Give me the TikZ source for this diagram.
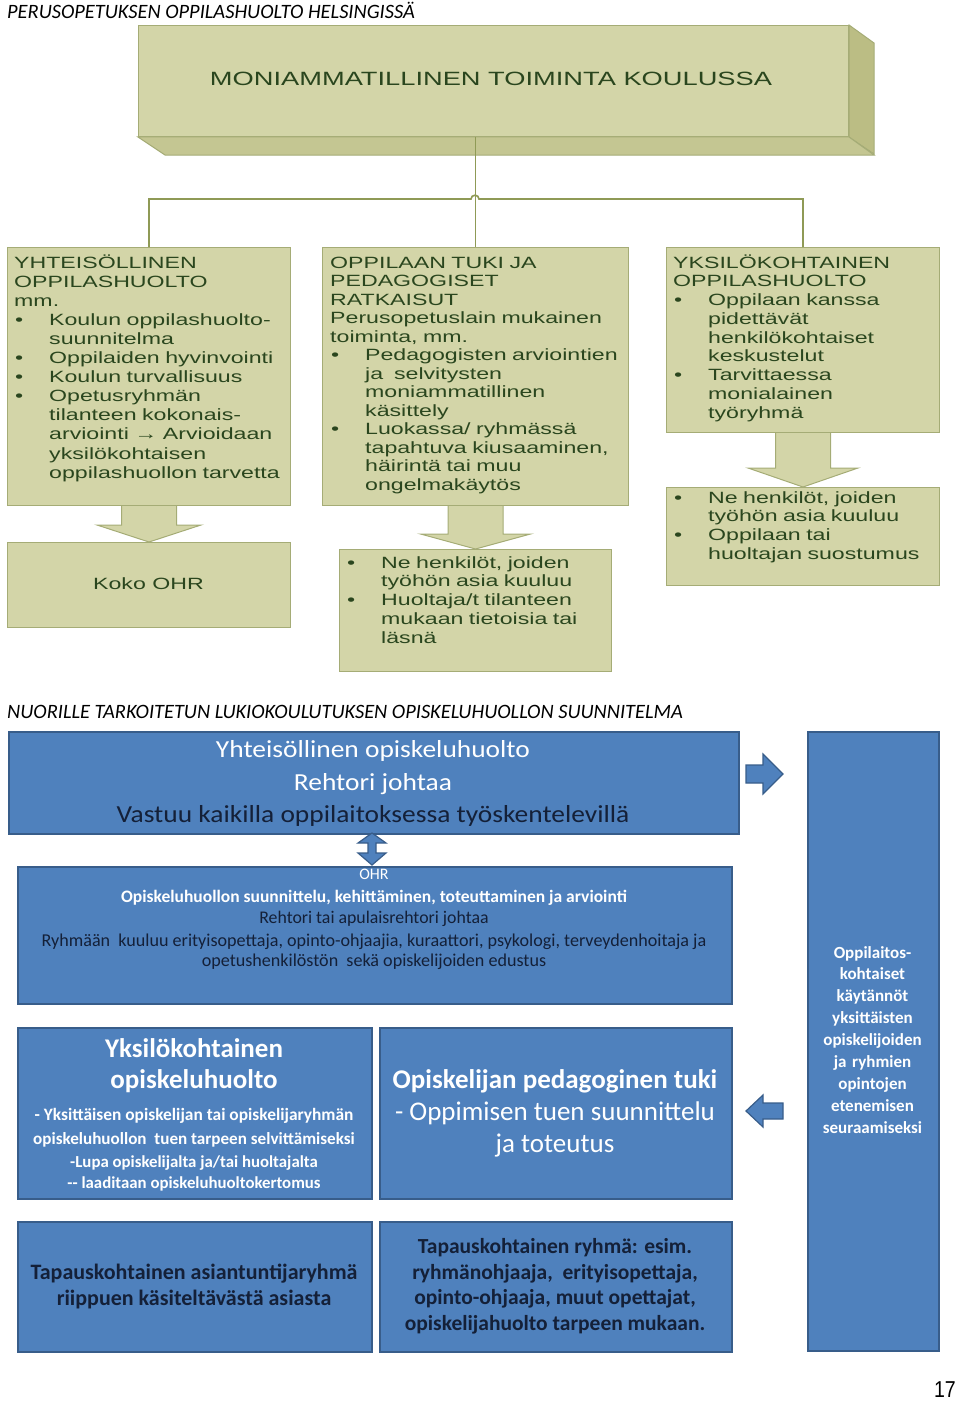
\documentclass[tikz,border=0pt]{standalone}
\usepackage{fontspec}
\setmainfont{Carlito}
\newfontfamily\gfont[FakeStretch=1.42]{Liberation Sans}
\newfontfamily\calf{Carlito}
\newfontfamily\calw[FakeStretch=1.12]{Carlito}
\newfontfamily\arn[FakeStretch=0.85]{Liberation Sans}
\usetikzlibrary{calc}
\definecolor{gfill}{RGB}{211,213,168}
\definecolor{gline}{RGB}{165,172,118}
\definecolor{gside}{RGB}{187,189,132}
\definecolor{gbot}{RGB}{196,198,146}
\definecolor{gtext}{RGB}{42,70,30}
\definecolor{conn}{RGB}{143,154,86}
\definecolor{bfill}{RGB}{79,129,189}
\definecolor{bline}{RGB}{56,93,138}
\definecolor{dtext}{RGB}{20,32,56}
\newcommand{\bl}{\makebox[35pt][l]{\hspace{1pt}•}}
\newcommand{\ind}{\hspace*{35pt}}
\newcommand{\garrow}[5]{%
  \draw[garr] let \p1=(#1), \p2=(#2) in
    (\x1-#3pt,\y1) -- (\x1-#3pt,\y2+#5pt) -- (\x1-#4pt,\y2+#5pt) -- (\x2,\y2)
    -- (\x1+#4pt,\y2+#5pt) -- (\x1+#3pt,\y2+#5pt) -- (\x1+#3pt,\y1);}
\begin{document}
\begin{tikzpicture}[x=1pt,y=-1pt,
  gbox/.style={draw=gline, line width=1pt, fill=gfill, inner sep=0pt, anchor=north west},
  garr/.style={draw=gline, line width=1pt, fill=gfill},
  conline/.style={draw=conn, line width=1.6pt},
  gtxt/.style={text=gtext, align=left, text width=400pt, inner sep=0pt, anchor=base west},
  bbox/.style={draw=bline, line width=1.5pt, fill=bfill, inner sep=0pt, anchor=north west},
  barr/.style={draw=bline, line width=1.2pt, fill=bfill},
  wt/.style={text=white, inner sep=0pt, anchor=base},
  dt/.style={text=dtext, inner sep=0pt, anchor=base},
  hdr/.style={inner sep=0pt, anchor=base west, font={\calf\itshape\fontsize{20.4}{24}\selectfont}}
]
\useasboundingbox (0,0) rectangle (960,1402);

% ---------- headers ----------
\node[hdr] (h1) at (7,19) {PERUSOPETUKSEN OPPILASHUOLTO HELSINGISSÄ};
\node[hdr] (h2) at (7,718) {NUORILLE TARKOITETUN LUKIOKOULUTUKSEN OPISKELUHUOLLON SUUNNITELMA};

% ---------- top 3D box ----------
\node[gbox, minimum width=710, minimum height=111] (top) at (138,25) {};
\draw[draw=gline, line width=1pt, fill=gside] (top.north east) -- ++(25,18) -- ++(0,111) -- (top.south east) -- cycle;
\draw[draw=gline, line width=1pt, fill=gbot] (top.south west) -- (top.south east) -- ++(25,18) -- ($(top.south west)+(27,18)$) -- cycle;
\node[text=gtext, inner sep=0pt, anchor=base, font={\gfont\fontsize{19.2}{22}\selectfont}] (tt) at (491,86) {MONIAMMATILLINEN TOIMINTA KOULUSSA};

% ---------- green boxes ----------
\node[gbox, minimum width=283, minimum height=258] (b1) at (7,247) {};
\node[gbox, minimum width=306, minimum height=258] (b2) at (322,247) {};
\node[gbox, minimum width=273, minimum height=185] (b3) at (666,247) {};
\node[gbox, minimum width=283, minimum height=85] (k1) at (7,542) {};
\node[gbox, minimum width=272, minimum height=122] (k2) at (339,549) {};
\node[gbox, minimum width=273, minimum height=98] (k3) at (666,487) {};

% connectors
\coordinate (jl) at (148.5,199);
\draw[conline] (top.south -| b2.north) -- (b2.north);
\draw[conline] (b1.north) -- (b1.north |- jl) -- (471,199) .. controls (471,194) and (479,194) .. (479,199) -- (b3.north |- jl) -- (b3.north);

% block arrows
\garrow{b1.south}{k1.north}{27.5}{52}{17}
\garrow{b2.south}{k2.north}{27.5}{55}{15}
\garrow{b3.south}{k3.north}{27.5}{55}{19}

% texts
\node[gtxt, font={\gfont\fontsize{16.3}{19.1}\selectfont}] (t1) at (14,268) {YHTEISÖLLINEN\\OPPILASHUOLTO\\mm.\\\bl Koulun oppilashuolto-\\\ind suunnitelma\\\bl Oppilaiden hyvinvointi\\\bl Koulun turvallisuus\\\bl Opetusryhmän\\\ind tilanteen kokonais-\\\ind arviointi → Arvioidaan\\\ind yksilökohtaisen\\\ind oppilashuollon tarvetta};
\node[gtxt, font={\gfont\fontsize{16.3}{18.5}\selectfont}] (t2) at (330,268) {OPPILAAN TUKI JA\\PEDAGOGISET\\RATKAISUT\\Perusopetuslain mukainen\\toiminta, mm.\\\bl Pedagogisten arviointien\\\ind ja~ selvitysten\\\ind moniammatillinen\\\ind käsittely\\\bl Luokassa/ ryhmässä\\\ind tapahtuva kiusaaminen,\\\ind häirintä tai muu\\\ind ongelmakäytös};
\node[gtxt, font={\gfont\fontsize{16.3}{18.75}\selectfont}] (t3) at (673,268) {YKSILÖKOHTAINEN\\OPPILASHUOLTO\\\bl Oppilaan kanssa\\\ind pidettävät\\\ind henkilökohtaiset\\\ind keskustelut\\\bl Tarvittaessa\\\ind monialainen\\\ind työryhmä};
\node[text=gtext, inner sep=0pt, anchor=base, font={\gfont\fontsize{16.3}{19}\selectfont}] (t4) at (148.5,589) {Koko OHR};
\node[gtxt, font={\gfont\fontsize{16.3}{18.8}\selectfont}] (t5) at (346,568) {\bl Ne henkilöt, joiden\\\ind työhön asia kuuluu\\\bl Huoltaja/t tilanteen\\\ind mukaan tietoisia tai\\\ind läsnä};
\node[gtxt, font={\gfont\fontsize{16.3}{18.8}\selectfont}] (t6) at (673,503) {\bl Ne henkilöt, joiden\\\ind työhön asia kuuluu\\\bl Oppilaan tai\\\ind huoltajan suostumus};

% ---------- blue section ----------
\node[bbox, minimum width=730, minimum height=102] (A) at (8,731) {};
\node[bbox, minimum width=714, minimum height=137] (B) at (17,866) {};
\node[bbox, minimum width=131, minimum height=619] (R) at (807,731) {};
\node[bbox, minimum width=354, minimum height=171] (C) at (17,1027) {};
\node[bbox, minimum width=352, minimum height=171] (D) at (379,1027) {};
\node[bbox, minimum width=354, minimum height=130] (E) at (17,1221) {};
\node[bbox, minimum width=352, minimum height=130] (F) at (379,1221) {};

% blue arrows
\coordinate (ra) at (746,774);
\draw[barr] (ra) ++(0,-9) -- ++(17,0) -- ++(0,-11) -- ++(20,20) -- ++(-20,20) -- ++(0,-11) -- ++(-17,0) -- cycle;
\coordinate (da) at (372,833);
\draw[barr] (da) -- ++(14,10) -- ++(-10,0) -- ++(0,10) -- ++(10,0) -- ++(-14,12) -- ++(-14,-12) -- ++(10,0) -- ++(0,-10) -- ++(-10,0) -- cycle;
\coordinate (la) at (746,1111);
\draw[barr] (la) -- ++(17,-16) -- ++(0,8) -- ++(20,0) -- ++(0,16) -- ++(-20,0) -- ++(0,8) -- cycle;

% box A
\node[wt, font={\calw\fontsize{24.5}{28}\selectfont}] (a1) at (373,757) {Yhteisöllinen opiskeluhuolto};
\node[wt, font={\calw\fontsize{24.5}{28}\selectfont}] (a2) at (373,790) {Rehtori johtaa};
\node[dt, font={\calw\fontsize{24.5}{28}\selectfont}] (a3) at (373,822) {Vastuu kaikilla oppilaitoksessa työskentelevillä};
% box B
\node[wt, font={\calf\fontsize{16}{19}\selectfont}] (o1) at (374,879) {OHR};
\node[wt, font={\calf\bfseries\fontsize{17.5}{20}\selectfont}] (o2) at (374,902) {Opiskeluhuollon suunnittelu, kehittäminen, toteuttaminen ja arviointi};
\node[dt, font={\calf\fontsize{17.8}{20}\selectfont}] (o3) at (374,923) {Rehtori tai apulaisrehtori johtaa};
\node[dt, font={\calf\fontsize{18.1}{20}\selectfont}] (o4) at (374,946) {Ryhmään~ kuuluu erityisopettaja, opinto-ohjaajia, kuraattori, psykologi, terveydenhoitaja ja};
\node[dt, font={\calf\fontsize{18.1}{20}\selectfont}] (o5) at (374,966) {opetushenkilöstön~ sekä opiskelijoiden edustus};
% right column
\node[wt, align=center, text width=130pt, font={\calf\bfseries\fontsize{17}{21.9}\selectfont}, anchor=base] (r1) at (872.5,958) {Oppilaitos-\\kohtaiset\\käytännöt\\yksittäisten\\opiskelijoiden\\ja ryhmien\\opintojen\\etenemisen\\seuraamiseksi};
% box C
\node[wt, font={\calf\bfseries\fontsize{27}{31}\selectfont}] (c1) at (194,1057) {Yksilökohtainen};
\node[wt, font={\calf\bfseries\fontsize{27}{31}\selectfont}] (c2) at (194,1088) {opiskeluhuolto};
\node[wt, font={\calf\bfseries\fontsize{17.4}{20}\selectfont}] (c3) at (194,1120) {- Yksittäisen opiskelijan tai opiskelijaryhmän};
\node[wt, font={\calf\bfseries\fontsize{17.1}{20}\selectfont}] (c4) at (194,1144) {opiskeluhuollon~ tuen tarpeen selvittämiseksi};
\node[wt, font={\calf\bfseries\fontsize{16.8}{20}\selectfont}] (c5) at (194,1167) {-Lupa opiskelijalta ja/tai huoltajalta};
\node[wt, font={\calf\bfseries\fontsize{16.8}{20}\selectfont}] (c6) at (194,1188) {-- laaditaan opiskeluhuoltokertomus};
% box D
\node[wt, font={\calf\bfseries\fontsize{27}{31}\selectfont}] (d1) at (555,1088) {Opiskelijan pedagoginen tuki};
\node[wt, font={\calf\fontsize{27}{31}\selectfont}] (d2) at (555,1120) {- Oppimisen tuen suunnittelu};
\node[wt, font={\calf\fontsize{27}{31}\selectfont}] (d3) at (555,1152) {ja toteutus};
% box E
\node[dt, font={\calf\bfseries\fontsize{22}{26}\selectfont}] (e1) at (194,1279) {Tapauskohtainen asiantuntijaryhmä};
\node[dt, font={\calf\bfseries\fontsize{22}{26}\selectfont}] (e2) at (194,1305) {riippuen käsiteltävästä asiasta};
% box F
\node[dt, font={\calf\bfseries\fontsize{21.5}{25}\selectfont}] (f1) at (555,1253) {Tapauskohtainen ryhmä: esim.};
\node[dt, font={\calf\bfseries\fontsize{21.5}{25}\selectfont}] (f2) at (555,1279) {ryhmänohjaaja,~ erityisopettaja,};
\node[dt, font={\calf\bfseries\fontsize{21.5}{25}\selectfont}] (f3) at (555,1304) {opinto-ohjaaja, muut opettajat,};
\node[dt, font={\calf\bfseries\fontsize{21.5}{25}\selectfont}] (f4) at (555,1330) {opiskelijahuolto tarpeen mukaan.};

% page number
\node[inner sep=0pt, anchor=base east, font={\arn\fontsize{23}{27}\selectfont}] (pg) at (956,1397) {17};
\end{tikzpicture}
\end{document}
